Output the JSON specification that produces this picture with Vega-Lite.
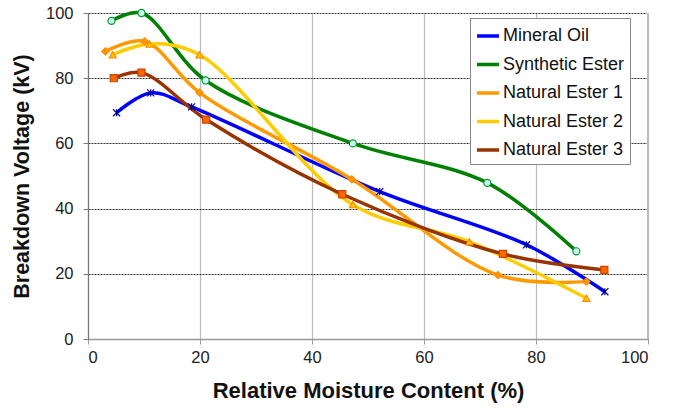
{
  "$schema": "https://vega.github.io/schema/vega-lite/v6.json",
  "width": 560,
  "height": 326,
  "autosize": "none",
  "padding": {"left": 88, "top": 13, "right": 30, "bottom": 69},
  "background": "white",
  "config": {
    "font": "Liberation Sans",
    "view": {"stroke": null},
    "axis": {"labelFont": "Liberation Sans", "titleFont": "Liberation Sans"}
  },
  "data": {
    "values": [
      {"series": "Mineral Oil", "x": 5.1, "y": 69.4},
      {"series": "Mineral Oil", "x": 11.2, "y": 75.5},
      {"series": "Mineral Oil", "x": 18.5, "y": 71.2},
      {"series": "Mineral Oil", "x": 52.1, "y": 45.2},
      {"series": "Mineral Oil", "x": 78.3, "y": 28.9},
      {"series": "Mineral Oil", "x": 92.3, "y": 14.5},
      {"series": "Synthetic Ester", "x": 4.2, "y": 97.6},
      {"series": "Synthetic Ester", "x": 9.55, "y": 100},
      {"series": "Synthetic Ester", "x": 21.0, "y": 79.3},
      {"series": "Synthetic Ester", "x": 47.3, "y": 60.0},
      {"series": "Synthetic Ester", "x": 71.3, "y": 47.9},
      {"series": "Synthetic Ester", "x": 87.2, "y": 26.9},
      {"series": "Natural Ester 1", "x": 3.1, "y": 88.2},
      {"series": "Natural Ester 1", "x": 10.1, "y": 91.3},
      {"series": "Natural Ester 1", "x": 19.9, "y": 75.6},
      {"series": "Natural Ester 1", "x": 47.1, "y": 49.0},
      {"series": "Natural Ester 1", "x": 73.2, "y": 19.6},
      {"series": "Natural Ester 1", "x": 89.0, "y": 17.6},
      {"series": "Natural Ester 2", "x": 4.4, "y": 87.2},
      {"series": "Natural Ester 2", "x": 11.0, "y": 90.5},
      {"series": "Natural Ester 2", "x": 19.9, "y": 87.2},
      {"series": "Natural Ester 2", "x": 47.3, "y": 41.2},
      {"series": "Natural Ester 2", "x": 68.1, "y": 29.8},
      {"series": "Natural Ester 2", "x": 89.0, "y": 12.5},
      {"series": "Natural Ester 3", "x": 4.6, "y": 80.0},
      {"series": "Natural Ester 3", "x": 9.55, "y": 81.7},
      {"series": "Natural Ester 3", "x": 21.1, "y": 67.3},
      {"series": "Natural Ester 3", "x": 45.4, "y": 44.4},
      {"series": "Natural Ester 3", "x": 74.1, "y": 26.1},
      {"series": "Natural Ester 3", "x": 92.2, "y": 21.2}
    ]
  },
  "encoding": {
    "x": {
      "field": "x", "type": "quantitative",
      "scale": {"domain": [0, 100], "nice": false},
      "axis": {
        "values": [0, 20, 40, 60, 80, 100],
        "title": "Relative Moisture Content (%)",
        "titleFontSize": 22, "titleFontWeight": "bold", "titleColor": "#111",
        "titlePadding": 15,
        "labelFontSize": 16.5, "labelColor": "#222", "labelPadding": 5,
        "domainColor": "#999", "domainWidth": 1.5,
        "tickColor": "#999", "tickSize": 5,
        "grid": true, "gridColor": "#bbb", "gridWidth": 1.2
      }
    },
    "y": {
      "field": "y", "type": "quantitative",
      "scale": {"domain": [0, 100], "nice": false},
      "axis": {
        "values": [0, 20, 40, 60, 80, 100],
        "title": "Breakdown Voltage (kV)",
        "titleFontSize": 21.5, "titleFontWeight": "bold", "titleColor": "#111",
        "titlePadding": 12,
        "labelFontSize": 16.5, "labelColor": "#222", "labelPadding": 10,
        "domainColor": "#777", "domainWidth": 1.2,
        "tickColor": "#777", "tickSize": 5,
        "grid": true, "gridColor": "#333", "gridDash": [2, 1], "gridWidth": 1
      }
    }
  },
  "resolve": {"legend": {"color": "independent", "shape": "independent", "fill": "independent", "stroke": "independent"}},
  "layer": [
    {
      "mark": {"type": "rule", "color": "#bbb", "strokeWidth": 1.2},
      "encoding": {"x": {"datum": 100}, "y": {"datum": 0}, "y2": {"datum": 100}}
    },
    {
      "mark": {"type": "line", "interpolate": "catmull-rom", "strokeWidth": 3.5},
      "encoding": {
        "color": {
          "field": "series", "type": "nominal",
          "scale": {
            "domain": ["Mineral Oil", "Synthetic Ester", "Natural Ester 1", "Natural Ester 2", "Natural Ester 3"],
            "range": ["#0000FF", "#008000", "#FF9900", "#FFCC00", "#993300"]
          },
          "legend": {
            "title": null,
            "orient": "none",
            "legendX": 382, "legendY": 5,
            "symbolType": "stroke", "symbolStrokeWidth": 3.5, "symbolSize": 484,
            "labelFontSize": 18, "labelColor": "#111", "labelLimit": 300,
            "labelOffset": 2,
            "rowPadding": 6.5,
            "fillColor": "white", "strokeColor": "#888", "padding": 5
          }
        },
        "order": {"field": "x", "type": "quantitative"}
      }
    },
    {
      "mark": {"type": "point", "filled": true, "size": 50, "strokeWidth": 1.2, "opacity": 1},
      "encoding": {
        "shape": {
          "field": "series", "type": "nominal", "legend": null,
          "scale": {
            "domain": ["Mineral Oil", "Synthetic Ester", "Natural Ester 1", "Natural Ester 2", "Natural Ester 3"],
            "range": ["M-1,-1L1,1M-1,1L1,-1M0,-1L0,1", "circle", "diamond", "triangle-up", "square"]
          }
        },
        "fill": {
          "field": "series", "type": "nominal", "legend": null,
          "scale": {
            "domain": ["Mineral Oil", "Synthetic Ester", "Natural Ester 1", "Natural Ester 2", "Natural Ester 3"],
            "range": ["transparent", "#CCFFEE", "#FF9900", "#FFCC00", "#FF6600"]
          }
        },
        "stroke": {
          "field": "series", "type": "nominal", "legend": null,
          "scale": {
            "domain": ["Mineral Oil", "Synthetic Ester", "Natural Ester 1", "Natural Ester 2", "Natural Ester 3"],
            "range": ["#000099", "#009933", "#FF8800", "#FF8800", "#CC4400"]
          }
        }
      }
    }
  ]
}
